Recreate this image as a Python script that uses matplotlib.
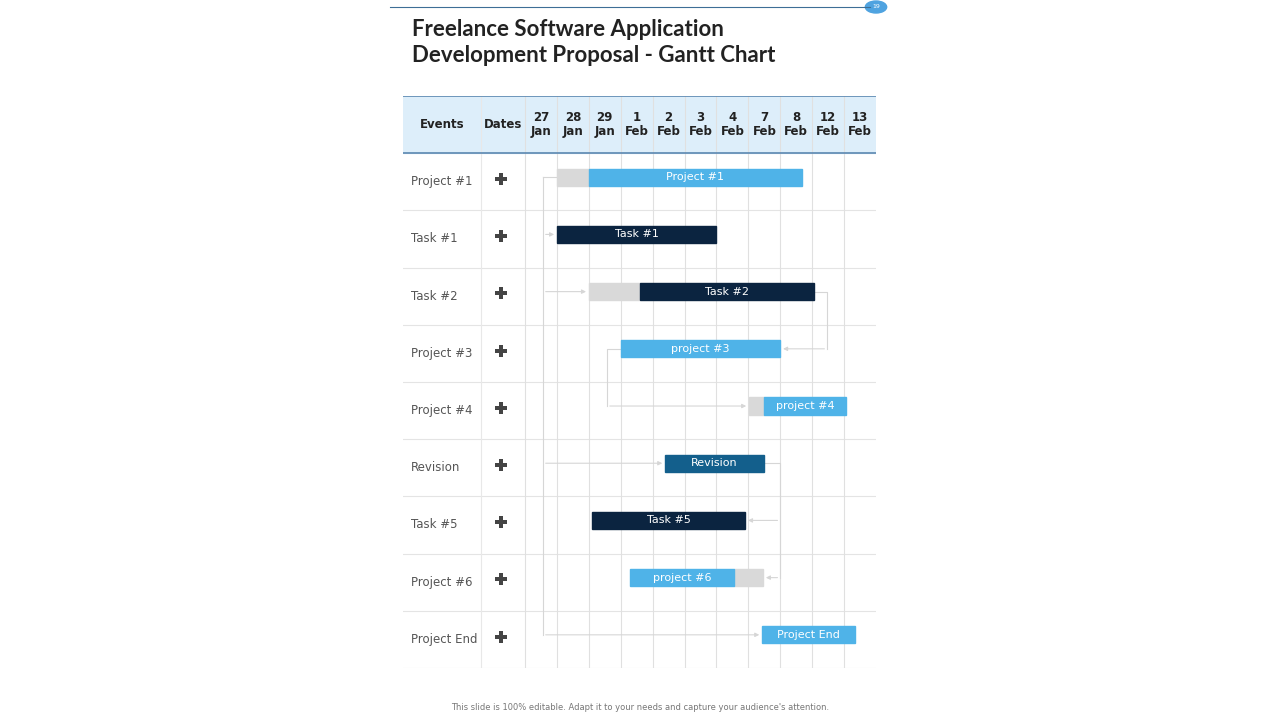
import matplotlib
matplotlib.use("Agg")
import matplotlib.pyplot as plt
from matplotlib.patches import Rectangle

events = ["Project #1", "Task #1", "Task #2", "Project #3", "Project #4",
          "Revision", "Task #5", "Project #6", "Project End"]
dates = ["27\nJan", "28\nJan", "29\nJan", "1\nFeb", "2\nFeb", "3\nFeb",
         "4\nFeb", "7\nFeb", "8\nFeb", "12\nFeb", "13\nFeb"]
# bar segments: (row, start col, end col, kind, label)
bar_labels = ["Project #1", "Task #1", "Task #2", "project #3", "project #4",
              "Revision", "Task #5", "project #6", "Project End"]
gray_start = [1.0, None, 2.0, None, 7.02, None, None, 6.55, None]
gray_end = [2.0, None, 3.6, None, 7.49, None, None, 7.46, None]
main_start = [2.0, 1.0, 3.6, 3.0, 7.49, 4.39, 2.1, 3.29, 7.43]
main_end = [8.68, 5.99, 9.06, 8.0, 10.06, 7.49, 6.9, 6.55, 10.34]
kinds = ["light", "dark", "dark", "light", "light", "mid", "dark", "light", "light"]

COL = {"light": "#4fb3e8", "dark": "#0b2440", "mid": "#135f8c", "gray": "#d9d9d9"}
W, H = 1280, 720
fig = plt.figure(figsize=(12.8, 7.2), dpi=100)
fig.patch.set_facecolor("white")

# table axes: pixel x 403..876, y 96..668
colw = 31.9
x0px, x1px, y0px, y1px = 403, 876, 96, 668
ax = fig.add_axes([x0px / W, 1 - y1px / H, (x1px - x0px) / W, (y1px - y0px) / H])
xl = (x0px - 525) / colw
ax.set_xlim(xl, 11)
ax.set_ylim(len(events), -1)
ax.axis("off")
xd = (481 - 525) / colw

# header
ax.add_patch(Rectangle((xl, -1), 11 - xl, 1, color="#ddeefa", zorder=0))
ax.plot([xl, 11], [-1, -1], color="#5b87b0", lw=1.2)
ax.plot([xl, 11], [0, 0], color="#5b87b0", lw=1.2)
for i in range(1, len(events) + 1):
    ax.plot([xl, 11], [i, i], color="#e4e4e4", lw=0.8, zorder=0)
for xv in [xd, 0] + list(range(1, 11)):
    ax.plot([xv, xv], [-1, len(events)], color="#e0e0e0" if xv != xd else "#e8e8e8", lw=0.8, zorder=0)
ax.text((xl + xd) / 2, -0.5, "Events", ha="center", va="center", fontsize=8.5, fontweight="bold", color="#222")
ax.text(xd / 2, -0.5, "Dates", ha="center", va="center", fontsize=8.5, fontweight="bold", color="#222")
for j, d in enumerate(dates):
    ax.text(j + 0.5, -0.5, d, ha="center", va="center", fontsize=8.5, fontweight="bold", color="#222", linespacing=1.1)

for i, e in enumerate(events):
    ax.text(xl + 0.25, i + 0.5, e, ha="left", va="center", fontsize=8.5, color="#555")
    ax.plot(xd / 2 - 0.05, i + 0.45, marker="P", ms=9, color="#444", mew=0)

# connectors
lc = "#d6d6d6"
def arrow(x_from, x_to, y):
    ax.annotate("", xy=(x_to, y), xytext=(x_from, y),
                arrowprops=dict(arrowstyle="-|>", color=lc, lw=0.8, mutation_scale=6), zorder=1)
vx = 0.56
ax.plot([vx, vx], [0.42, 8.42], color=lc, lw=0.8, zorder=1)
ax.plot([vx, 1.0], [0.42, 0.42], color=lc, lw=0.8, zorder=1)
arrow(vx, 1.0, 1.42)
arrow(vx, 2.0, 2.42)
arrow(vx, 4.39, 5.42)
arrow(vx, 7.43, 8.42)
ax.plot([3.0, 2.57, 2.57], [3.42, 3.42, 4.42], color=lc, lw=0.8, zorder=1)
arrow(2.57, 7.02, 4.42)
ax.plot([9.06, 9.47, 9.47], [2.42, 2.42, 3.42], color=lc, lw=0.8, zorder=1)
arrow(9.47, 8.0, 3.42)
ax.plot([7.49, 8.0, 8.0], [5.42, 5.42, 7.42], color=lc, lw=0.8, zorder=1)
arrow(8.0, 6.9, 6.42)
arrow(8.0, 7.46, 7.42)

bh = 0.3
for i in range(len(events)):
    yc = i + 0.42
    if gray_start[i] is not None:
        ax.add_patch(Rectangle((gray_start[i], yc - bh / 2), gray_end[i] - gray_start[i], bh,
                               color=COL["gray"], zorder=2))
    ax.add_patch(Rectangle((main_start[i], yc - bh / 2), main_end[i] - main_start[i], bh,
                           color=COL[kinds[i]], zorder=2))
    lx0 = main_start[i]
    lx1 = main_end[i]
    ax.text((lx0 + lx1) / 2, yc, bar_labels[i], ha="center", va="center", fontsize=8,
            color="white", zorder=3)

# title & decorations
fig.add_artist(plt.Line2D([390 / W, 870 / W], [1 - 7 / H, 1 - 7 / H], color="#3d6e96", lw=0.8))
fig.add_artist(plt.Circle((876 / W, 1 - 7 / H), 6 / H, color="#4fa3e0", transform=fig.transFigure))
fig.text(876 / W, 1 - 7 / H, "19", ha="center", va="center", fontsize=4.5, color="white")
fig.text(412 / W, 1 - 30 / H, "Freelance Software Application", ha="left", va="center",
         fontsize=16, fontweight="bold", color="#222", family="Lato")
fig.text(412 / W, 1 - 56 / H, "Development Proposal - Gantt Chart", ha="left", va="center",
         fontsize=16, fontweight="bold", color="#222", family="Lato")
fig.text(640 / W, 1 - 708 / H, "This slide is 100% editable. Adapt it to your needs and capture your audience's attention.",
         ha="center", va="center", fontsize=6, color="#777")

fig.savefig("out.png", dpi=100, facecolor="white")
